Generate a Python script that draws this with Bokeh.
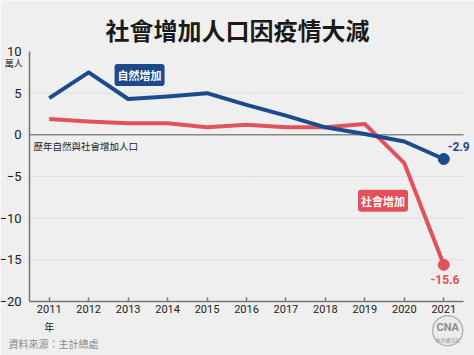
from bokeh.plotting import figure
from bokeh.models import Label, Range1d
from bokeh.embed import file_html
from bokeh.resources import INLINE

years = list(range(2011, 2022))
natural = [4.4, 7.5, 4.3, 4.6, 5.0, 3.6, 2.3, 0.9, 0.1, -0.8, -2.9]
social = [1.9, 1.6, 1.4, 1.4, 0.9, 1.2, 0.9, 0.9, 1.3, -3.4, -15.6]
y_ticks = [-20, -15, -10, -5, 0, 5, 10]
grid_ticks = [-15, -10, -5, 5]
title_text = "社會增加人口因疫情大減"
unit_text = "萬人"
subtitle_text = "歷年自然與社會增加人口"
source_text = "資料來源：主計總處"
natural_name = "自然增加"
social_name = "社會增加"

BLUE = "#1b4b8c"
RED = "#e2525c"
BG = "#efefef"
CJK = "Noto Sans CJK TC"

X0, X1 = 2010.5, 2021.5
Y0, Y1 = -20, 10
# frame covers whole canvas; plot area 29..463 px, 51..301 px
PX = 434 / (X1 - X0)
PY = 250 / (Y1 - Y0)
p = figure(width=474, height=355,
           x_range=Range1d(X0 - 29 / PX, X0 + 445 / PX),
           y_range=Range1d(Y0 - 54 / PY, Y1 + 51 / PY),
           output_backend="svg", toolbar_location=None,
           min_border_left=0, min_border_right=0, min_border_top=0, min_border_bottom=0)
p.background_fill_color = BG
p.border_fill_color = BG
p.outline_line_color = None
p.grid.visible = False

p.yaxis.fixed_location = X0
p.xaxis.fixed_location = Y0
p.yaxis.bounds = (Y0, Y1)
p.xaxis.bounds = (X0, X1)
p.yaxis.ticker = y_ticks
p.xaxis.ticker = years
for ax in (p.xaxis, p.yaxis):
    ax.axis_line_color = "#777777"
    ax.axis_line_width = 1.5
    ax.minor_tick_line_color = None
    ax.major_label_text_color = "#222222"
p.yaxis.major_tick_line_color = None
p.yaxis.major_label_text_font = "Roboto"
p.yaxis.major_label_text_font_size = "13px"
p.yaxis.major_label_standoff = 2
p.xaxis.major_tick_in = 4
p.xaxis.major_tick_out = 0
p.xaxis.major_tick_line_color = "#777777"
p.xaxis.major_tick_line_width = 1.5
p.xaxis.major_label_text_font = "Roboto"
p.xaxis.major_label_text_font_size = "11px"
p.xaxis.major_label_standoff = 3

# dotted grid and solid zero line within plot area
p.segment(x0=[X0] * len(grid_ticks), x1=[X1] * len(grid_ticks), y0=grid_ticks, y1=grid_ticks,
          line_color="#c4c4c4", line_width=1, line_dash="1 2")
p.segment(x0=[X0], x1=[X1], y0=[0], y1=[0], line_color="#888888", line_width=1.5)

p.line(years, social, line_color=RED, line_width=4, line_join="round")
p.line(years, natural, line_color=BLUE, line_width=4, line_join="round")
p.scatter([years[-1]], [social[-1]], size=11, color=RED)
p.scatter([years[-1]], [natural[-1]], size=11, color=BLUE)

# logo placeholder
p.scatter([2021.1], [-23.5], size=30, fill_color="#ececec", line_color="#b5b5b5", line_width=1.5)

def lab(**kw):
    p.add_layout(Label(**kw))

lab(x=2015.77, y=12.64, text=title_text, text_font=CJK, text_font_style="bold",
    text_font_size="24px", text_color="#1a1a1a", text_align="center", text_baseline="middle")
lab(x=2010.33, y=8.56, text=unit_text, text_font=CJK, text_font_size="9px",
    text_color="#222222", text_align="right", text_baseline="middle")
lab(x=2010.6, y=-1.35, text=subtitle_text, text_font=CJK, text_font_size="9.5px",
    text_color="#222222", text_align="left", text_baseline="middle")
lab(x=2011, y=-23.0, text="年", text_font=CJK, text_font_size="10px",
    text_color="#222222", text_align="center", text_baseline="middle")
lab(x=2009.97, y=-25.05, text=source_text, text_font=CJK, text_font_size="10px",
    text_color="#8a8a8a", text_align="left", text_baseline="middle")
lab(x=2021.1, y=-23.1, text="CNA", text_font="Roboto", text_font_style="bold",
    text_font_size="11px", text_color="#8f8f8f", text_align="center", text_baseline="middle")
lab(x=2021.1, y=-24.5, text="中央通訊社", text_font=CJK,
    text_font_size="5px", text_color="#8f8f8f", text_align="center", text_baseline="middle")

lab(x=2013.29, y=7.18, text=natural_name, text_font=CJK, text_font_style="bold",
    text_font_size="11px", text_color="white", text_align="center", text_baseline="middle",
    background_fill_color=BLUE, border_radius=3, padding=3)
lab(x=2019.46, y=-7.92, text=social_name, text_font=CJK, text_font_style="bold",
    text_font_size="11px", text_color="white", text_align="center", text_baseline="middle",
    background_fill_color=RED, border_radius=3, padding=3)

lab(x=2021.1, y=-1.35, text=f"{natural[-1]}", text_font="Roboto", text_font_style="bold",
    text_font_size="12px", text_color=BLUE, text_align="left", text_baseline="middle")
lab(x=2021.03, y=-17.4, text=f"{social[-1]}", text_font="Roboto", text_font_style="bold",
    text_font_size="12px", text_color=RED, text_align="center", text_baseline="middle")

open("out.html", "w").write(file_html(p, INLINE))
